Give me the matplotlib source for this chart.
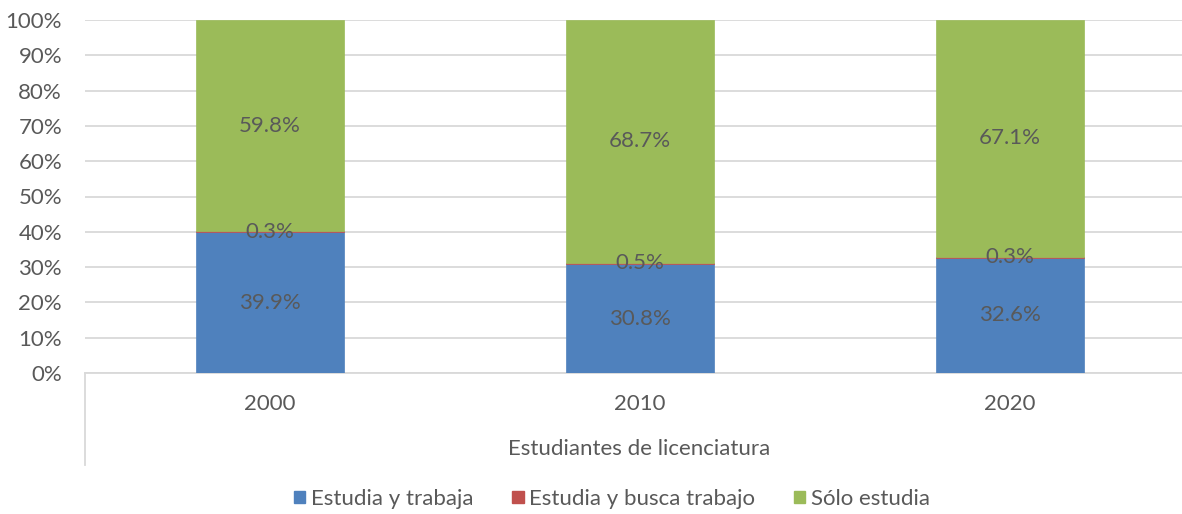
import matplotlib
matplotlib.use("Agg")
import matplotlib.pyplot as plt
from matplotlib.lines import Line2D
from matplotlib.patches import Patch

years = ["2000", "2010", "2020"]
group_label = "Estudiantes de licenciatura"
series_names = ["Estudia y trabaja", "Estudia y busca trabajo", "Sólo estudia"]
trabaja = [39.9, 30.8, 32.6]
busca = [0.3, 0.5, 0.3]
solo = [59.8, 68.7, 67.1]
colors = ["#4F81BD", "#C0504D", "#9BBB59"]
text_color = "#595959"
grid_color = "#D9D9D9"

plt.rcParams['font.family'] = ['Lato', 'DejaVu Sans']
FS = 16

W, H = 1182, 514
fig = plt.figure(figsize=(W / 100, H / 100), dpi=100)
left, right, top, bottom = 85, 1195, 20, 373
ax = fig.add_axes([left / W, (H - bottom) / H, (right - left) / W, (bottom - top) / H])

x = list(range(len(years)))
series = [trabaja, busca, solo]
base = [0.0] * len(years)
for vals, col, name in zip(series, colors, series_names):
    ax.bar(x, vals, width=0.4, bottom=base, color=col, label=name, zorder=3,
           edgecolor=col, linewidth=0.5)
    for xi, v, b in zip(x, vals, base):
        ax.text(xi, b + v / 2, f"{v:.1f}%", ha="center", va="center",
                fontsize=FS, color=text_color, zorder=4)
    base = [b + v for b, v in zip(base, vals)]

ax.set_xlim(-0.5, 2.5)
ax.set_ylim(0, 100)
ax.set_yticks(range(0, 101, 10))
ax.set_yticklabels([f"{t}%" for t in range(0, 101, 10)])
ax.yaxis.grid(True, color=grid_color, linewidth=1.3, zorder=0)
ax.set_axisbelow(True)
for s in ["top", "right", "left"]:
    ax.spines[s].set_visible(False)
ax.spines["bottom"].set_color(grid_color)
ax.spines["bottom"].set_linewidth(1.3)
ax.tick_params(axis="y", length=0, labelsize=FS, labelcolor=text_color, pad=16.5)
ax.set_xticks(x)
ax.set_xticklabels(years)
ax.tick_params(axis="x", length=0, labelsize=FS, labelcolor=text_color, pad=15)

# group label and left vertical separator
fig.text(639 / W, (H - 449) / H, group_label,
         ha="center", va="center", fontsize=FS, color=text_color)
fig.add_artist(Line2D([left / W, left / W], [(H - 373) / H, (H - 465) / H],
                      color=grid_color, linewidth=1.3))

handles = [Patch(facecolor=c, edgecolor=c) for c in colors]
fig.legend(handles, series_names, loc="center", bbox_to_anchor=(612 / W, (H - 499) / H),
           ncol=3, frameon=False, fontsize=FS, labelcolor=text_color,
           handlelength=0.5, handleheight=0.5, handletextpad=0.25, columnspacing=1.75)

fig.savefig("out.png", dpi=100)
